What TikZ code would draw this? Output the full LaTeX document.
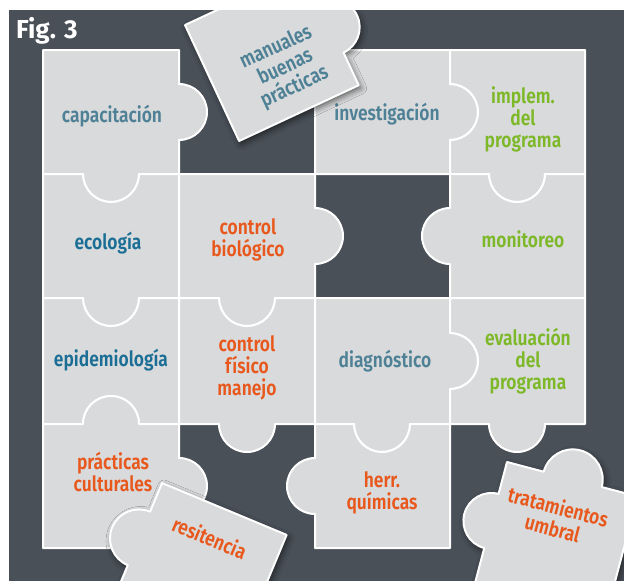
\documentclass[tikz,border=0pt]{standalone}
\usepackage{fontspec}
\setmainfont{Fira Sans}
\newfontfamily\pf{Fira Sans SemiBold}[FakeStretch=0.83]
\newfontfamily\figf{Fira Sans}
\usetikzlibrary{shadows.blur}
\definecolor{bgdark}{RGB}{73,80,88}
\definecolor{piece}{RGB}{217,218,219}
\definecolor{tgray}{RGB}{78,128,150}
\definecolor{tblue}{RGB}{26,110,149}
\definecolor{torange}{RGB}{232,88,28}
\definecolor{tgreen}{RGB}{125,184,40}
\tikzset{
  pz/.style={fill=piece, draw=white, line width=2pt, line join=round},
  pzs/.style={pz, blur shadow={shadow xshift=2pt, shadow yshift=-3pt, shadow blur radius=6pt, shadow opacity=60}},
  lbl/.style={font=\pf\fontsize{21}{22}\selectfont, align=center, inner sep=0pt},
}
\begin{document}
\begin{tikzpicture}[x=1pt,y=-1pt]
\useasboundingbox (0,0) rectangle (624,581);
\fill[white] (0,0) rectangle (624,581);
\fill[bgdark] (9,10) rectangle (624,581);
\begin{scope}
\clip (9,10) rectangle (624,581);
% ---- grid pieces ----
% capacitacion
\path[pz] (43,50) -- (179,50) -- (179,84) arc[start angle=-90,end angle=90,radius=28] -- (179,174) -- (139,174) arc[start angle=0,end angle=180,radius=28] -- (43,174) -- cycle;
% ecologia
\path[pz] (43,174) -- (83,174) arc[start angle=180,end angle=0,radius=28] -- (179,174) -- (179,298) -- (139,298) arc[start angle=0,end angle=180,radius=28] -- (43,298) -- cycle;
% epidemiologia
\path[pz] (43,298) -- (83,298) arc[start angle=180,end angle=0,radius=28] -- (179,298) -- (179,424) -- (139,424) arc[start angle=0,end angle=-180,radius=28] -- (43,424) -- cycle;
% practicas culturales
\path[pz] (43,424) -- (83,424) arc[start angle=180,end angle=360,radius=28] -- (179,424) -- (179,458) arc[start angle=-90,end angle=90,radius=28] -- (179,548) -- (43,548) -- cycle;
% control biologico
\path[pz] (179,174) -- (315,174) -- (315,208) arc[start angle=-90,end angle=90,radius=28] -- (315,298) -- (275,298) arc[start angle=0,end angle=180,radius=28] -- (179,298) -- cycle;
% control fisico manejo
\path[pz] (179,298) -- (219,298) arc[start angle=180,end angle=0,radius=28] -- (315,298) -- (315,424) -- (275,424) arc[start angle=0,end angle=180,radius=28] -- (179,424) -- cycle;
% investigacion
\path[pz] (315,50) -- (450,50) -- (450,84) arc[start angle=-90,end angle=90,radius=28] -- (450,174) -- (315,174) -- cycle;
% implem. del programa
\path[pz] (450,50) -- (585,50) -- (585,174) -- (545,174) arc[start angle=0,end angle=180,radius=28] -- (450,174) -- (450,140) arc[start angle=90,end angle=-90,radius=28] -- cycle;
% monitoreo
\path[pz] (450,174) -- (489,174) arc[start angle=180,end angle=0,radius=28] -- (585,174) -- (585,298) -- (450,298) -- (450,264) arc[start angle=90,end angle=270,radius=28] -- cycle;
% diagnostico
\path[pz] (315,298) -- (450,298) -- (450,333) arc[start angle=-90,end angle=90,radius=28] -- (450,424) -- (410,424) arc[start angle=0,end angle=180,radius=28] -- (315,424) -- cycle;
% evaluacion del programa
\path[pz] (450,298) -- (585,298) -- (585,424) -- (545,424) arc[start angle=0,end angle=180,radius=28] -- (450,424) -- (450,389) arc[start angle=90,end angle=-90,radius=28] -- cycle;
% herr. quimicas
\path[pz] (315,424) -- (354,424) arc[start angle=180,end angle=0,radius=28] -- (450,424) -- (450,548) -- (315,548) -- (315,514) arc[start angle=90,end angle=270,radius=28] -- cycle;
% ---- labels of grid pieces ----
\node[lbl, text=tgray]   (capac) at (112,116) {capacitación};
\node[lbl, text=tgray]   (inves) at (387,114) {investigación};
\node[lbl, text=tgreen]  (imple) at (523,119) {implem.\\del\\programa};
\node[lbl, text=tblue]   (ecolo) at (108,243) {ecología};
\node[lbl, text=torange] (cbiol) at (248,240) {control\\biológico};
\node[lbl, text=tgreen]  (monit) at (523,239) {monitoreo};
\node[lbl, text=tblue]   (epide) at (111,360) {epidemiología};
\node[lbl, text=torange] (cfisi) at (247,368) {control\\físico\\manejo};
\node[lbl, text=tgray]   (diagn) at (385,361) {diagnóstico};
\node[lbl, text=tgreen]  (evalu) at (528,361) {evaluación\\del\\programa};
\node[lbl, text=torange] (pract) at (113,472) {prácticas\\culturales};
\node[lbl, text=torange] (herrq) at (382,493) {herr.\\químicas};
% ---- loose pieces ----
\begin{scope}[shift={(185,25)}, rotate=25]
\path[pzs] (0,0) -- (132,0) -- (132,36) arc[start angle=-90,end angle=90,radius=28] -- (132,128) -- (0,128) -- cycle;
\node[lbl, text=tgray, rotate=25] (manua) at (73,81) {manuales\\buenas\\prácticas};
\end{scope}
\begin{scope}[shift={(162,483)}, rotate=-22.6]
\path[pzs] (0,0) -- (135,0) -- (135,130) -- (0,130) -- (0,89) arc[start angle=90,end angle=270,radius=29] -- cycle;
\node[lbl, text=torange, rotate=-22.6] (resit) at (65,32) {resitencia};
\end{scope}
\begin{scope}[shift={(507,462)}, rotate=-14.8]
\path[pzs] (0,0) -- (38,0) arc[start angle=180,end angle=360,radius=30] -- (135,0) -- (135,135) -- (0,135) -- (0,89) arc[start angle=90,end angle=270,radius=28] -- cycle;
\node[lbl, text=torange, rotate=-14.8] (trata) at (61,41) {tratamientos\\umbral};
\end{scope}
% ---- title ----
\node[anchor=base west, inner sep=0pt, text=white, font=\figf\bfseries\fontsize{26}{28}\selectfont] (figtitle) at (16,38) {Fig. 3};
\end{scope}
\end{tikzpicture}
\end{document}
